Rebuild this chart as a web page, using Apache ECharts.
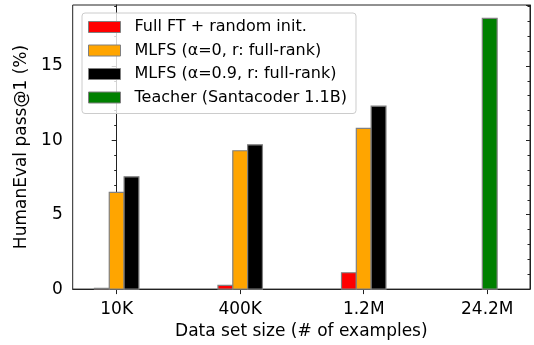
<!DOCTYPE html>
<html>
<head>
<meta charset="utf-8">
<script src="https://cdn.jsdelivr.net/npm/echarts@6/dist/echarts.min.js"></script>
<style>
  html, body { margin: 0; padding: 0; background: #fff; }
  #chart { width: 534px; height: 345px; }
</style>
</head>
<body>
<div id="chart"></div>
<script>
// Data set sizes on the x axis
const categories = ['10K', '400K', '1.2M', '24.2M'];

// HumanEval pass@1 (%) for each method at each data set size (null = not run)
const fullFtRandom = [0.05, 0.25, 1.1, null];
const mlfsAlpha0 = [6.5, 9.3, 10.8, null];
const mlfsAlpha09 = [7.55, 9.7, 12.3, null];
const teacher = [null, null, null, 18.2];

const seriesNames = [
  'Full FT + random init.',
  'MLFS (\u03b1=0, r: full-rank)',
  'MLFS (\u03b1=0.9, r: full-rank)',
  'Teacher (Santacoder 1.1B)'
];
const seriesColors = ['#ff0000', '#ffa500', '#000000', '#008000'];

const yTicks = [0, 5, 10, 15];

// bar width and per-series offset, in category units
const BAR_W = 0.12;
const offsets = [-BAR_W, 0, BAR_W, 0.02];
const EDGE = '#808080';
const FONT = 'DejaVu Sans';
const AXIS_FS = 17;
const LEGEND_FS = 16;

function makeSeries(name, values, color, offset) {
  const data = [];
  values.forEach((v, i) => { if (v !== null) data.push([i + offset, v]); });
  return {
    name: name,
    type: 'custom',
    itemStyle: { color: color, borderColor: EDGE, borderWidth: 1 },
    data: data,
    renderItem: function (params, api) {
      const x = api.value(0);
      const y = api.value(1);
      const topLeft = api.coord([x - BAR_W / 2, y]);
      const size = api.size([BAR_W, y]);
      return {
        type: 'rect',
        shape: { x: topLeft[0], y: topLeft[1], width: size[0], height: size[1] },
        style: { fill: color, stroke: EDGE, lineWidth: 1.2 }
      };
    }
  };
}

const allValues = [fullFtRandom, mlfsAlpha0, mlfsAlpha09, teacher];
const series = allValues.map((vals, k) => makeSeries(seriesNames[k], vals, seriesColors[k], offsets[k]));

const chart = echarts.init(document.getElementById('chart'), null, { renderer: 'canvas' });
chart.setOption({
  animation: false,
  backgroundColor: '#ffffff',
  textStyle: { fontFamily: FONT },
  grid: {
    left: 72.7, right: 4, top: 5, bottom: 55.3,
    show: true, borderColor: '#222', borderWidth: 1, backgroundColor: 'transparent'
  },
  legend: {
    orient: 'vertical',
    left: 82, top: 13,
    padding: [5, 9, 7, 6],
    itemWidth: 32, itemHeight: 11, itemGap: 5.5,
    backgroundColor: 'rgba(255,255,255,0.8)',
    borderColor: '#cccccc', borderWidth: 1, borderRadius: 3,
    textStyle: { fontFamily: FONT, fontSize: LEGEND_FS, color: '#000', lineHeight: 18, padding: [0, 0, 0, 9] },
    data: seriesNames.map((n, k) => ({
      name: n, icon: 'rect',
      itemStyle: { color: seriesColors[k], borderColor: EDGE, borderWidth: 1 }
    }))
  },
  xAxis: {
    type: 'value',
    min: -0.356, max: 3.346,
    name: 'Data set size (# of examples)',
    nameLocation: 'middle', nameGap: 24,
    nameTextStyle: { fontFamily: FONT, fontSize: AXIS_FS, color: '#000' },
    axisLine: { show: true, onZero: false, lineStyle: { color: '#222', width: 1 } },
    axisTick: { show: true, inside: false, length: 5, customValues: [0, 1, 2, 3], lineStyle: { color: '#222' } },
    axisLabel: {
      customValues: [0, 1, 2, 3], margin: 12,
      fontFamily: FONT, fontSize: AXIS_FS, color: '#000',
      formatter: v => categories[Math.round(v)]
    },
    splitLine: { show: false }
  },
  yAxis: [
    {
      type: 'value', position: 'left',
      min: 0, max: 19.1,
      name: 'HumanEval pass@1 (%)',
      nameLocation: 'middle', nameGap: 38, nameRotate: 90,
      nameTextStyle: { fontFamily: FONT, fontSize: AXIS_FS, color: '#000' },
      axisLine: { show: true, lineStyle: { color: '#222', width: 1 } },
      axisTick: { show: true, inside: false, length: 5, customValues: yTicks, lineStyle: { color: '#222' } },
      minorTick: { show: true, splitNumber: 5, length: 2.5, lineStyle: { color: '#222' } },
      axisLabel: { customValues: yTicks, margin: 10, fontFamily: FONT, fontSize: AXIS_FS, color: '#000' },
      splitLine: { show: false },
      interval: 5
    },
    {
      type: 'value', position: 'right',
      min: 0, max: 19.1, interval: 5,
      axisLine: { show: true, lineStyle: { color: '#222', width: 1 } },
      axisTick: { show: true, inside: true, length: 4, lineStyle: { color: '#222' } },
      minorTick: { show: true, splitNumber: 5, length: 2.5, lineStyle: { color: '#222' } },
      axisLabel: { show: false },
      splitLine: { show: false }
    }
  ],
  series: series
});
</script>
</body>
</html>
